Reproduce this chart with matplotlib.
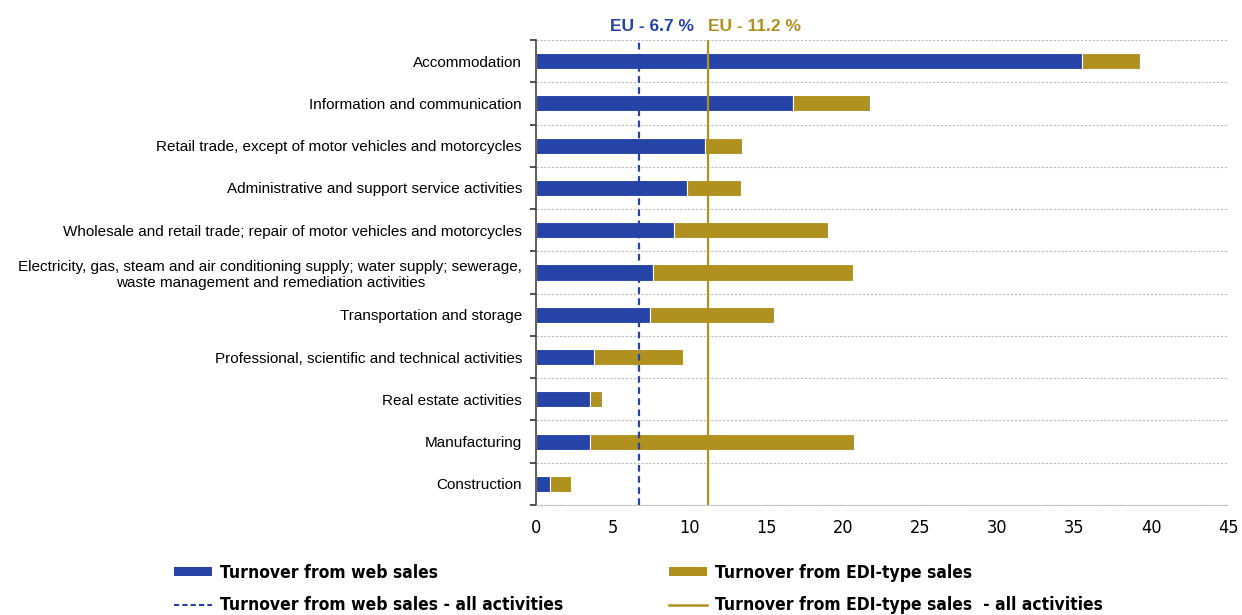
import numpy as np
import matplotlib.pyplot as plt
from matplotlib.patches import Patch
from matplotlib.lines import Line2D

plt.rcParams['font.family'] = ['Liberation Sans', 'DejaVu Sans']

# NACE activities, top to bottom
categories = [
    "Accommodation",
    "Information and communication",
    "Retail trade, except of motor vehicles and motorcycles",
    "Administrative and support service activities",
    "Wholesale and retail trade; repair of motor vehicles and motorcycles",
    "Electricity, gas, steam and air conditioning supply; water supply; sewerage,\nwaste management and remediation activities",
    "Transportation and storage",
    "Professional, scientific and technical activities",
    "Real estate activities",
    "Manufacturing",
    "Construction",
]
# % of total turnover
web_sales = [35.5, 16.7, 11.0, 9.8, 9.0, 7.6, 7.4, 3.8, 3.5, 3.5, 0.9]
edi_sales = [3.8, 5.05, 2.4, 3.5, 10.0, 13.0, 8.05, 5.75, 0.8, 17.15, 1.4]
eu_web = 6.7
eu_edi = 11.2

blue = "#2644A7"
gold = "#B09120"

fig = plt.figure(figsize=(12.42, 6.15), dpi=100)
ax = fig.add_axes([536 / 1242, 1 - 505 / 615, (1228 - 536) / 1242, (505 - 40) / 615])

y = np.arange(len(categories))
ax.barh(y, web_sales, height=0.38, color=blue, edgecolor="white", linewidth=0.8)
ax.barh(y, edi_sales, left=web_sales, height=0.38, color=gold, edgecolor="white", linewidth=0.8)

ax.axvline(eu_web, color=blue, linestyle=(0, (3, 2)), linewidth=1.6, zorder=3)
ax.axvline(eu_edi, color=gold, linewidth=1.6, zorder=3)

ax.set_xlim(0, 45)
ax.set_ylim(len(categories) - 0.5, -0.5)
ax.set_xticks(np.arange(0, 46, 5))
ax.tick_params(axis="x", length=0, pad=10)
for lbl in ax.get_xticklabels():
    lbl.set_fontfamily(["DejaVu Sans"])
    lbl.set_fontstretch("condensed")
    lbl.set_fontsize(13)

ax.set_yticks(y)
ax.set_yticklabels(categories, fontsize=11)
ax.tick_params(axis="y", which="major", length=0, pad=10)
ax.set_yticks(np.arange(-0.5, len(categories), 1), minor=True)
ax.tick_params(axis="y", which="minor", length=4, width=1.2, color="#333333")
ax.grid(axis="y", which="minor", color="#BBBBBB", linestyle=(0, (2, 1.5)), linewidth=0.8)
ax.set_axisbelow(True)

for side in ["top", "right"]:
    ax.spines[side].set_visible(False)
ax.spines["bottom"].set_color("#BBBBBB")
ax.spines["bottom"].set_linestyle((0, (2, 1.5)))
ax.spines["bottom"].set_linewidth(0.8)
ax.spines["left"].set_color("#444444")
ax.spines["left"].set_linewidth(1.2)

for lbl in ax.get_yticklabels():
    lbl.set_horizontalalignment("right")
    lbl.set_multialignment("center")

ax.text(4.8, -0.65, "EU - 6.7 %", color=blue, fontsize=12.5, fontweight="bold", ha="left", va="bottom")
ax.text(11.2, -0.65, "EU - 11.2 %", color=gold, fontsize=12.5, fontweight="bold", ha="left", va="bottom")

fig.text(0.004, 1.018, "(% of total turnover)", fontsize=13, ha="left", va="center", color="#333333")

handles = [
    Patch(facecolor=blue, edgecolor="none"),
    Line2D([], [], color=blue, linestyle=(0, (2.5, 1.5)), linewidth=1.5),
    Patch(facecolor=gold, edgecolor="none"),
    Line2D([], [], color=gold, linewidth=1.8),
]
labels = [
    "Turnover from web sales",
    "Turnover from web sales - all activities",
    "Turnover from EDI-type sales",
    "Turnover from EDI-type sales  - all activities",
]
fig.legend(handles, labels, ncol=2, loc="upper left", bbox_to_anchor=(158 / 1242, 1 - 548 / 615),
           frameon=False, handlelength=2.2, handleheight=0.5, handletextpad=0.45,
           columnspacing=6.1, labelspacing=0.85,
           prop={"family": ["DejaVu Sans"], "stretch": "condensed", "weight": "bold", "size": 12.5})

fig.savefig("out.png", dpi=100)
